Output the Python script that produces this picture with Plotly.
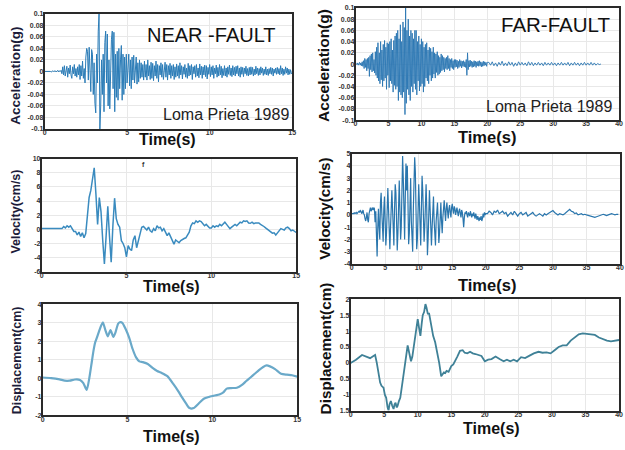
import numpy as np
import plotly.graph_objects as go

W, H = 625, 450

# ---------------- data ----------------
NEAR_ACC_DT = 0.05
NEAR_ACC = [
    0, 0, .001, 0, 0, .001, 0, 0, -.001, 0, .001, 0, 0, .001, -.001, 0, .002, -.001, .001, 0, .002,
    -.004, .008, -.006, .010, -.008, .004, .009, -.010, .006, -.004, .011, -.006, -.012, .008, -.004, .012, -.008, .005, -.010, .008,
    -.006, .012, -.014, .010, -.008, .018, -.012, .005, -.020, .025,
    .040, .035, -.015, .042, -.010, -.035, .038, .030, -.040, .015,
    -.055, -.072, .030, -.020, .070, .100, -.100, -.060, .020, -.040,
    .030, -.070, .050, .070, -.020, .065, -.060, .020, -.065, .010,
    .055, .070, -.030, .068, -.070, .030, -.045, .035, -.050, .040,
    -.030, .020, .045, -.050, .030, -.040, .025, -.030, .030, -.020,
    .015, .030, -.025, .020, -.030, .025, -.015, .028, -.020, .010,
    .025, -.022, .015, -.018, .020, -.012, .015, -.010, .012, -.015,
    .018, -.010, .012, -.015, .020, -.008, .010, -.014, .016, -.012,
    .014, -.016, .010, -.008, .018, -.012, .012, -.018, .010, -.006,
    .015, -.010, .012, -.014, .008, .016, -.010, .012, -.015, .010,
    -.006, .014, -.012, .010, -.008, .012, -.014, .008, -.010, .013,
    -.008, .010, -.012, .015, -.006, .010, -.013, .008, -.005, .012,
    -.010, .006, -.012, .014, -.008, .010, -.006, .012, -.014, .008,
    -.004, .010, -.010, .012, -.008, .006, -.011, .013, -.006, .009,
    -.012, .008, -.006, .011, -.009, .010, -.013, .007, -.005, .012,
    -.009, .008, -.006, .010, -.012, .006, -.004, .011, -.010, .007,
    -.008, .012, -.006, .009, -.011, .005, -.007, .010, -.008, .006,
    -.010, .008, -.005, .011, -.007, .006, -.009, .010, -.006, .007,
    -.008, .009, -.004, .010, -.008, .006, -.010, .008, -.005, .007,
    -.009, .006, -.004, .009, -.007, .005, -.008, .007, -.006, .008,
    -.005, .007, -.008, .004, -.006, .009, -.004, .006, -.007, .005,
    -.006, .008, -.003, .006, -.007, .004, -.005, .008, -.006, .004,
    -.007, .005, -.004, .007, -.005, .006, -.008, .004, -.003, .006,
    -.005, .007, -.004, .005, -.006, .010, -.004, .006, -.007, .004,
    -.005, .008, -.003, .006, -.006, .004, -.005, .003, -.004, -.002,
]

FAR_ACC_DT_A = 0.1      # 0 .. 20 s
FAR_ACC_A = [
    0, .001, -.001, .002, -.002, .001, .003, -.002, .002, -.003, .004,
    -.004, .006, -.008, .010, -.006, .008, -.012, .010, -.008, .012,
    -.022, .015, -.010, .018, -.014, .020, -.012, .008, -.016, .022,
    -.020, .030, -.025, .038, -.030, .020, -.035, .040, -.028, .025,
    -.040, .035, -.030, .042, -.025, .030, -.045, .038, -.020, .036,
    -.042, .040, -.030, .045, -.035, .025, -.050, .042, -.038, .050,
    -.045, .055, -.040, .060, -.065, .045, -.050, .070, -.055, .040,
    -.060, .075, -.050, .065, -.090, .100, -.070, .060, -.045, .080,
    -.055, .050, -.065, .060, -.040, .055, -.050, .045, -.035, .060,
    -.045, .060, -.055, .040, -.030, .050, -.048, .035, -.040, .045,
    -.035, .040, -.050, .030, -.040, .035, -.025, .038, -.030, .025,
    -.035, .030, -.020, .028, -.030, .022, -.025, .030, -.018, .020,
    -.025, .018, -.015, .022, -.020, .015, -.018, .012, -.015, .018,
    -.012, .015, -.010, .012, -.014, .010, -.008, .012, -.010, .015,
    -.008, .010, -.012, .008, -.006, .010, -.008, .006, -.010, .008,
    -.006, .008, -.005, .007, -.008, .005, -.006, .008, -.004, .006,
    -.007, .005, -.004, .006, -.005, .004, -.006, .008, -.020, .020,
    -.010, .006, -.005, .007, -.004, .005, -.006, .004, -.005, .006,
    -.004, .005, -.006, .004, -.003, .005, -.004, .006, -.003, .004,
    -.005, .003, -.004, .005, -.003, .004, -.002, .003, -.004, .003,
]
FAR_ACC_T0_B, FAR_ACC_DT_B = 20.25, 0.25   # 20.25 .. 37.25 s
FAR_ACC_B = [
    .003, -.002, .004, -.003, .002, -.004, .003, -.002, .005, -.003,
    .002, -.003, .004, -.002, .003, -.004, .002, -.003, .004, -.002,
    .003, -.002, .002, -.003, .004, -.002, .003, -.003, .002, -.002,
    .003, -.002, .002, -.003, .003, -.002, .002, -.002, .003, -.002,
    .002, -.003, .002, -.002, .003, -.002, .002, -.002, .003, -.003,
    .002, -.002, .003, -.002, .002, -.003, .002, -.002, .003, -.002,
    .002, -.002, .003, -.002, .002, -.002, .001, -.001, 0,
]

NEAR_VEL_DT = 0.1
NEAR_VEL = [
    .1, .1, .1, .08, .05, .05, .03, 0, 0, 0,
    0, 0, .1, .4, .2, .5, .3, .5, .1, -.3,
    -.3, -.8, -.4, -1.0, -.5, -1.2, -.6, 1.5, 4.5, 5.5,
    7.5, 8.7, 5.0, .7, 4.5, 2.5, -1.5, -4.9, -1.0, 3.25,
    -1.0, -4.65, .5, 4.4, 1.5, .7, .3, -1.6, -2.0, -2.6,
    -3.9, -2.3, -2.8, -3.0, -1.5, -.9, -2.6, -1.5, -.5, .3,
    .4, .2, -.1, .3, -.2, -.4, .1, -.2, .5, .2,
    .3, -.2, .1, -.4, -.9, -.5, -1.0, -1.6, -2.1, -1.5,
    -1.7, -1.9, -1.6, -1.4, -1.3, -1.2, -.8, -.4, .5, .9,
    .8, 1.2, 1.0, 1.2, 1.1, .8, .5, .7, .4, .2,
    .2, .5, .3, .5, .4, .7, .5, .8, 1.0, .7,
    .4, .1, .3, .5, .7, .5, .8, 1.0, .9, 1.2,
    1.1, 1.2, .9, .85, 1.0, .8, .9, .85, .9, .7,
    .6, .4, .2, 0, -.2, -.3, -.55, -.5, -.8, -.5,
    -.2, .1, 0, -.1, .2, .3, .1, -.2, -.1, -.3, -.45,
]

FAR_VEL_DT_A = 0.1     # 0 .. 20 s
FAR_VEL_A = [
    .1, .1, .15, .1, .2, .1, .15, .2, .1, .15,
    .2, .3, .2, .35, .3, .1, .2, .4, .1, 0,
    -.3, -.5, -.2, .2, -.4, -.6, .1, .4, .6, .3,
    .5, .6, .4, .6, .5, -.6, .3, -1.5, -3.4, -1.0,
    .5, -1.0, -2.0, 1.0, 1.8, .2, -1.5, -2.2, .5, 1.5,
    -.5, -2.5, -1.5, 1.5, 2.2, .5, -1.8, -2.8, -1.0, 1.8,
    2.0, .5, -1.5, -2.5, .5, 2.5, 1.8, -1.0, -2.9, -1.5,
    1.0, 2.8, .5, -2.0, -1.0, 2.0, 4.8, 3.0, -1.0, -2.0,
    1.5, 4.2, 2.0, 4.0, 1.0, -2.4, -1.5, 1.5, 3.0, -.5,
    -2.5, -3.0, .5, 2.5, 4.7, 3.5, -.5, -2.8, -2.0, 1.0,
    2.5, 1.0, -1.5, -2.5, .5, 3.2, 2.0, -.5, -2.2, -1.0,
    1.5, 2.5, .5, -3.3, -2.0, .5, 2.0, .5, -1.5, -2.5,
    -1.0, 1.0, 1.5, -.5, -2.0, -2.5, -.5, .8, 1.0, -.5,
    -2.3, -1.5, .5, 1.0, -.5, -1.5, -.2, .8, 1.2, .3,
    -.5, .5, 1.0, .3, -.3, .5, .8, .2, -.2, .6,
    .9, .4, .1, .7, .5, 0, .4, .6, .2, -.1,
    .3, .5, .1, -.2, .4, .2, -.3, -1.0, -.2, .2,
    .1, .3, 0, -.2, .2, .1, -.1, .3, 0, -.2,
    .1, -.1, .2, 0, -.3, .1, -.2, -.4, -.1, -.3,
    -.5, -.2, -.4, -.1, -.5, -.3, .1, -.2, .2, 0,
    .1,
]
FAR_VEL_T0_B, FAR_VEL_DT_B = 20.25, 0.25   # 20.25 .. 40 s
FAR_VEL_B = [
    .1, .3, .2, 0, .3, .2, .4, .1, .2, .3,
    .1, .2, -.1, .1, .2, 0, .3, .1, -.1, .1,
    .2, 0, .1, .2, -.1, 0, .1, .2, 0, -.1,
    0, .1, 0, -.1, .1, 0, .1, .2, .3, .35,
    .2, .1, 0, .1, .05, 0, .1, .2, .35, .45,
    .3, .25, .1, .15, 0, .05, .1, 0, .05, 0,
    -.05, -.1, -.15, -.2, -.2, -.15, -.1, -.05, 0, .05,
    0, -.05, 0, .05, .1, .05, 0, .05, .05,
]

NEAR_DISP_T = [0, .5, 1.0, 1.3, 1.6, 1.9, 2.2, 2.4, 2.6, 2.75,
               2.9, 3.0, 3.1, 3.2, 3.35, 3.45, 3.55, 3.7, 3.84, 4.0,
               4.17, 4.3, 4.45, 4.55, 4.7, 4.9, 5.1, 5.3, 5.5, 5.7,
               5.9, 6.2, 6.5, 6.75, 7.0, 7.35, 7.7, 8.0, 8.2, 8.45,
               8.66, 8.9, 9.2, 9.5, 9.8, 10.05, 10.45, 10.65, 10.85, 11.1,
               11.45, 11.75, 12.0, 12.25, 12.5, 12.75, 13.0, 13.2, 13.4, 13.7,
               14.05, 14.4, 14.7, 15.0]
NEAR_DISP = [.05, .02, -.05, -.12, -.12, -.06, -.08, -.25, -.62, 0.0,
             .9, 1.5, 1.95, 2.2, 2.6, 2.85, 3.03, 2.6, 2.27, 2.6,
             2.24, 2.5, 2.95, 3.03, 3.0, 2.65, 2.2, 1.6, 1.15, .92,
             .88, .78, .55, .4, .3, .12, -.3, -.7, -1.0, -1.35,
             -1.6, -1.6, -1.35, -1.1, -1.0, -.94, -.85, -.75, -.55, -.52,
             -.5, -.35, -.14, .05, .25, .45, .62, .7, .65, .5,
             .25, .2, .17, .1]

FAR_DISP_T = [0, .8, 1.7, 2.4, 2.9, 3.4, 3.65, 3.9, 4.2, 4.4,
              4.6, 4.9, 5.1, 5.3, 5.5, 5.65, 5.8, 6.0, 6.2, 6.4,
              6.55, 6.7, 6.85, 7.0, 7.2, 7.4, 7.6, 7.8, 8.0, 8.5,
              8.8, 9.0, 9.2, 9.4, 9.6, 9.8, 10.0, 10.2, 10.4, 10.6,
              10.75, 10.95, 11.15, 11.3, 11.5, 11.7, 12.0, 12.3, 12.6, 12.9,
              13.2, 13.5, 13.7, 13.9, 14.1, 14.3, 14.6, 14.8, 15.0, 15.3,
              15.6, 15.9, 16.3, 16.7, 17.0, 17.4, 17.8, 18.2, 18.6, 19.0,
              19.5, 20.0, 20.5, 21.0, 21.6, 22.2, 22.8, 23.3, 23.8, 24.3,
              24.8, 25.4, 26.0, 26.6, 27.3, 28.0, 28.6, 29.2, 29.8, 30.4,
              31.0, 31.6, 32.2, 32.8, 33.4, 34.0, 34.6, 35.2, 35.8, 36.4,
              37.0, 37.6, 38.2, 38.8, 39.4, 40.0]
FAR_DISP = [0, .1, .25, .2, .15, .22, .25, 0, -.35, -.62,
            -.72, -.78, -1.0, -1.1, -1.39, -1.5, -1.3, -1.2, -1.35, -1.45,
            -1.3, -1.25, -1.4, -1.35, -1.2, -1.1, -.8, -.5, -.25, .55,
            .25, .05, .2, .5, .65, 1.0, 1.38, 1.1, .85, 1.25,
            1.5, 1.6, 1.85, 1.75, 1.55, 1.55, 1.15, .85, .65, .35,
            0, -.42, -.35, -.3, -.32, -.25, -.28, -.2, -.1, -.05,
            .1, .2, .38, .4, .32, .3, .35, .3, .28, .25,
            .22, .05, .1, .12, .2, .12, .05, .1, .05, .1,
            .05, .18, .15, .22, .3, .35, .32, .33, .3, .4,
            .5, .55, .55, .7, .8, .9, .93, .92, .9, .88,
            .8, .75, .7, .68, .7, .72]

# tick labels
X_TICKS_NEAR = [0, 5, 10, 15]
X_TICKS_FAR = [0, 5, 10, 15, 20, 25, 30, 35, 40]
ACC_TICKS = [0.1, 0.08, 0.06, 0.04, 0.02, 0, -0.02, -0.04, -0.06, -0.08, -0.1]
ACC_TICKTEXT = ["0.1", "0.08", "0.06", "0.04", "0.02", "0", "-0.02", "-0.04", "-0.06", "-0.08", "-0.1"]
NEAR_VEL_TICKS = [10, 8, 6, 4, 2, 0, -2, -4, -6]
FAR_VEL_TICKS = [5, 4, 3, 2, 1, 0, -1, -2, -3, -4]
NEAR_DISP_TICKS = [4, 3, 2, 1, 0, -1, -2]
FAR_DISP_TICKS = [2, 1.5, 1, 0.5, 0, -0.5, -1, -1.5]
FAR_DISP_TICKTEXT = ["2", "1.5", "1", "0.5", "0", "0.5", "-1", "1.5"]

# ---------------- figure ----------------
def px(x):
    return x / W

def py(y):
    return 1 - y / H

near_acc_t = np.arange(len(NEAR_ACC)) * NEAR_ACC_DT
far_acc_t = np.concatenate([np.arange(len(FAR_ACC_A)) * FAR_ACC_DT_A,
                            FAR_ACC_T0_B + np.arange(len(FAR_ACC_B)) * FAR_ACC_DT_B])
far_acc_v = FAR_ACC_A + FAR_ACC_B
near_vel_t = np.arange(len(NEAR_VEL)) * NEAR_VEL_DT
far_vel_t = np.concatenate([np.arange(len(FAR_VEL_A)) * FAR_VEL_DT_A,
                            FAR_VEL_T0_B + np.arange(len(FAR_VEL_B)) * FAR_VEL_DT_B])
far_vel_v = FAR_VEL_A + FAR_VEL_B

FONT = "Liberation Sans, Arial, sans-serif"

panels = [
    dict(box=(43, 293, 10, 127), xr=[0, 15], xt=X_TICKS_NEAR, yr=[-0.1, 0.1], yt=ACC_TICKS, ytt=ACC_TICKTEXT,
         x=near_acc_t, y=NEAR_ACC, color="#2b7cb7", width=1.0, shape="linear"),
    dict(box=(357, 623, 4, 118), xr=[0, 40], xt=X_TICKS_FAR, yr=[-0.1, 0.1], yt=ACC_TICKS, ytt=ACC_TICKTEXT,
         x=far_acc_t, y=far_acc_v, color="#2a76b2", width=0.9, shape="linear"),
    dict(box=(40, 297, 157, 272), xr=[0, 15], xt=X_TICKS_NEAR, yr=[-6, 10], yt=NEAR_VEL_TICKS,
         ytt=[str(v) for v in NEAR_VEL_TICKS], x=near_vel_t, y=NEAR_VEL, color="#3a8bbf", width=1.5, shape="linear"),
    dict(box=(353, 624, 152, 264), xr=[0, 40], xt=X_TICKS_FAR, yr=[-4, 5], yt=FAR_VEL_TICKS,
         ytt=[str(v) for v in FAR_VEL_TICKS], x=far_vel_t, y=far_vel_v, color="#2a76ad", width=1.2, shape="linear"),
    dict(box=(41, 298, 305, 418), xr=[0, 15], xt=X_TICKS_NEAR, yr=[-2, 4], yt=NEAR_DISP_TICKS,
         ytt=[str(v) for v in NEAR_DISP_TICKS], x=NEAR_DISP_T, y=NEAR_DISP, color="#6aa9c9", width=2.2, shape="spline"),
    dict(box=(352, 623, 300, 413), xr=[0, 40], xt=X_TICKS_FAR, yr=[-1.5, 2], yt=FAR_DISP_TICKS, ytt=FAR_DISP_TICKTEXT,
         x=FAR_DISP_T, y=FAR_DISP, color="#3f8197", width=1.8, shape="linear"),
]

fig = go.Figure()
layout = dict(width=W, height=H, margin=dict(l=0, r=0, t=0, b=0), paper_bgcolor="white",
              plot_bgcolor="white", showlegend=False, font=dict(family=FONT))

for i, p in enumerate(panels, start=1):
    x0, x1, y0, y1 = p["box"]
    xa = "xaxis" if i == 1 else f"xaxis{i}"
    ya = "yaxis" if i == 1 else f"yaxis{i}"
    xref = "x" if i == 1 else f"x{i}"
    yref = "y" if i == 1 else f"y{i}"
    tickfont = dict(size=7, color="#333333", family=FONT, weight="bold")
    layout[xa] = dict(domain=[px(x0), px(x1)], range=p["xr"], anchor=yref, tickvals=p["xt"],
                      showline=True, mirror=True, linecolor="#2a2a2a", linewidth=1.5,
                      showgrid=True, gridcolor="#e8e8e8", gridwidth=1, zeroline=False,
                      ticks="", tickfont=tickfont, fixedrange=True, ticklabelstandoff=-4)
    layout[ya] = dict(domain=[py(y1), py(y0)], range=p["yr"], anchor=xref, tickvals=p["yt"],
                      ticktext=p["ytt"], showline=True, mirror=True, linecolor="#2a2a2a", linewidth=1.5,
                      showgrid=True, gridcolor="#e8e8e8", gridwidth=1, zeroline=False,
                      ticks="", tickfont=tickfont, fixedrange=True, ticklabelstandoff=-2)
    line = dict(color=p["color"], width=p["width"], shape=p["shape"])
    if p["shape"] == "spline":
        line["smoothing"] = 0.6
    fig.add_trace(go.Scatter(x=p["x"], y=p["y"], mode="lines", line=line,
                             xaxis=xref, yaxis=yref, hoverinfo="skip"))

fig.update_layout(**layout)

NAVY = "#1c1c3a"
BLACK = "#111111"
texts = [
    # (text, x, y, size, bold, color, angle)
    ("Time(s)", 167, 138, 16, True, BLACK, 0),
    ("Time(s)", 490, 135, 16.5, True, BLACK, 0),
    ("Time(s)", 171, 287, 16, True, BLACK, 0),
    ("Time(s)", 490, 285, 16.5, True, BLACK, 0),
    ("Time(s)", 171, 439, 16, True, BLACK, 0),
    ("Time(s)", 494, 431, 16, True, BLACK, 0),
    ("Acceleration(g)", 14, 73, 13.5, True, NAVY, -90),
    ("Acceleration(g)", 324, 62, 15.5, True, BLACK, -90),
    ("Velocity(cm/s)", 14, 211, 12.5, True, NAVY, -90),
    ("Velocity(cm/s)", 326, 208, 15.2, True, BLACK, -90),
    ("Displacement(cm)", 16, 362, 12.5, True, NAVY, -90),
    ("Displacement(cm)", 327, 350, 15.3, True, BLACK, -90),
    ("NEAR -FAULT", 212, 31, 20, False, "#111111", 0),
    ("Loma Prieta 1989", 226, 112, 16, False, "#222222", 0),
    ("FAR-FAULT", 559, 21, 20.5, False, "#111111", 0),
    ("Loma Prieta 1989", 552, 104, 16, False, "#222222", 0),
    ("f", 143, 163, 7, True, "#333333", 0),
]
for t, x, y, s, b, c, a in texts:
    fig.add_annotation(text=t, x=px(x), y=py(y), xref="paper", yref="paper",
                       xanchor="center", yanchor="middle", showarrow=False, textangle=a,
                       font=dict(size=s, color=c, family=FONT, weight="bold" if b else "normal"))

fig.write_html("out.html")
